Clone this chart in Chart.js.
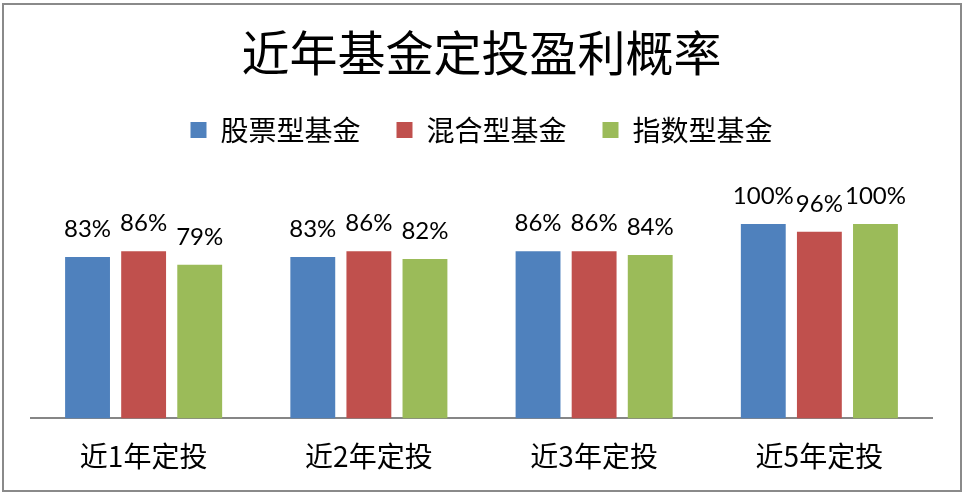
<!DOCTYPE html>
<html lang="zh-CN">
<head>
    <meta charset="UTF-8">
    <title>近年基金定投盈利概率</title>
    <script src="https://cdn.jsdelivr.net/npm/chart.js"></script>
    <style>
        body {
            margin: 0;
            background-color: white;
        }

        #moldura {
            position: absolute;
            left: 2px;
            top: 3px;
            width: 956px;
            height: 485px;
            border: 2px solid #8a8a8a;
        }

        #grafico {
            position: absolute;
            left: 0;
            top: 0;
        }
    </style>
</head>
<body>

    <div id="moldura"></div>
    <canvas id="grafico" width="965" height="493"></canvas>

    <script>
        const categorias = ['近1年定投', '近2年定投', '近3年定投', '近5年定投'];
        const series = ['股票型基金', '混合型基金', '指数型基金'];
        const acoes = [83, 83, 86, 100];
        const mistos = [86, 86, 86, 96];
        const indices = [79, 82, 84, 100];
        const cores = ['#4F81BD', '#C0504D', '#9BBB59'];

        const fonteCJK = '"Noto Sans CJK SC", "Noto Sans", sans-serif';

        // rotulos de porcentagem acima de cada barra
        const rotulos = {
            id: 'rotulos',
            afterDatasetsDraw(chart) {
                const ctx = chart.ctx;
                ctx.save();
                ctx.font = '24px Lato, "Open Sans", sans-serif';
                ctx.fillStyle = '#000';
                ctx.textAlign = 'center';
                ctx.textBaseline = 'alphabetic';
                chart.data.datasets.forEach((ds, i) => {
                    const meta = chart.getDatasetMeta(i);
                    meta.data.forEach((bar, j) => {
                        ctx.fillText(ds.data[j] + '%', bar.x, bar.y - 20);
                    });
                });
                ctx.restore();
            }
        };

        const ctx = document.getElementById('grafico').getContext('2d');
        new Chart(ctx, {
            type: 'bar',
            data: {
                labels: categorias,
                datasets: [
                    { label: series[0], data: acoes, backgroundColor: cores[0] },
                    { label: series[1], data: mistos, backgroundColor: cores[1] },
                    { label: series[2], data: indices, backgroundColor: cores[2] }
                ]
            },
            options: {
                responsive: false,
                animation: false,
                devicePixelRatio: 1,
                datasets: {
                    bar: {
                        categoryPercentage: 0.747,
                        barPercentage: 0.8
                    }
                },
                layout: {
                    padding: { left: 31, right: 33, top: 0, bottom: 7 }
                },
                scales: {
                    x: {
                        grid: { display: false },
                        border: { display: true, color: '#868686', width: 2 },
                        ticks: {
                            color: '#000',
                            padding: 13,
                            font: { family: fonteCJK, size: 28 }
                        }
                    },
                    y: {
                        display: false,
                        min: 0,
                        max: 136
                    }
                },
                plugins: {
                    title: {
                        display: true,
                        text: '近年基金定投盈利概率',
                        color: '#000',
                        font: { family: fonteCJK, size: 48, weight: 'normal', lineHeight: 1 },
                        padding: { top: 29, bottom: 3 }
                    },
                    legend: {
                        labels: {
                            color: '#000',
                            boxWidth: 16,
                            boxHeight: 16,
                            padding: 36,
                            font: { family: fonteCJK, size: 28 }
                        }
                    },
                    tooltip: { enabled: false }
                }
            },
            plugins: [rotulos]
        });
    </script>

</body>
</html>
